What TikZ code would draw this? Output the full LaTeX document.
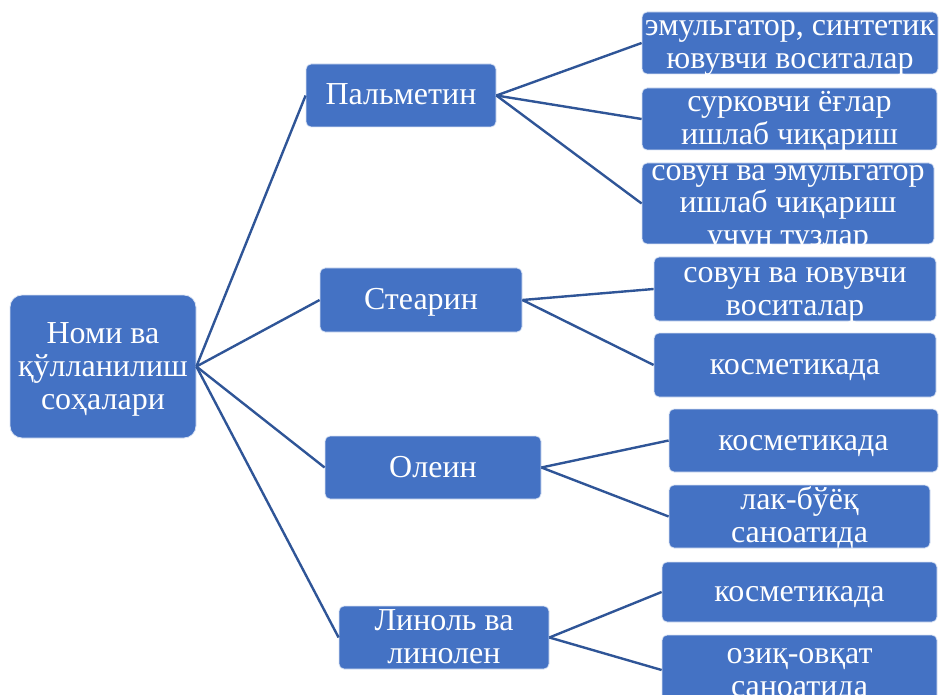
\documentclass[tikz,border=0pt]{standalone}
\usepackage{fontspec}
\setmainfont{Liberation Serif}
\definecolor{boxblue}{HTML}{4472C4}
\definecolor{linkblue}{HTML}{2F5597}
\newcommand\ms{\rule[-7pt]{0pt}{33pt}}
\begin{document}
\begin{tikzpicture}[x=1pt,y=-1pt,
  box/.style={fill=boxblue, draw=white!80!boxblue, line width=0.8pt, rounded corners=5pt, inner sep=0pt},
  txt/.style={inner sep=0pt, text=white, align=center, font=\fontsize{32}{33}\selectfont},
  link/.style={draw=linkblue, line width=2.4pt}]
\useasboundingbox (0,0) rectangle (940,695);
\clip (0,0) rectangle (940,695);
% boxes
\node[box, rounded corners=12pt, minimum width=186pt, minimum height=143pt] (root) at (103,366.5) {};
\node[box, minimum width=190pt, minimum height=63pt] (palm) at (401,95.5) {};
\node[box, minimum width=202pt, minimum height=64pt] (stear) at (421,300) {};
\node[box, minimum width=216pt, minimum height=63pt] (olein) at (433,467.5) {};
\node[box, minimum width=210pt, minimum height=63pt] (lin) at (444,637.5) {};
\node[box, minimum width=296pt, minimum height=62pt] (c1) at (790,43) {};
\node[box, minimum width=295pt, minimum height=62pt] (c2) at (789.5,119) {};
\node[box, minimum width=292pt, minimum height=81pt] (c3) at (788,203.5) {};
\node[box, minimum width=282pt, minimum height=64pt] (s1) at (795,289) {};
\node[box, minimum width=282pt, minimum height=64pt] (s2) at (795,365) {};
\node[box, minimum width=269pt, minimum height=63pt] (o1) at (803.5,440.5) {};
\node[box, minimum width=261pt, minimum height=63pt] (o2) at (799.5,516.5) {};
\node[box, minimum width=275pt, minimum height=60pt] (l1) at (799.5,592) {};
\node[box, minimum width=275pt, minimum height=70pt] (l2) at (799.5,670) {};
% texts
\node[txt] (roott) at (root.center) {\ms Номи ва\\\ms қўлланилиш\\\ms соҳалари};
\node[txt] (palmt) at (palm.center) {\ms Пальметин};
\node[txt] (steart) at (stear.center) {\ms Стеарин};
\node[txt] (oleint) at (olein.center) {\ms Олеин};
\node[txt] (lint) at (lin.center) {\ms Линоль ва\\\ms линолен};
\node[txt] (c1t) at (c1.center) {\ms эмульгатор, синтетик\\\ms ювувчи воситалар};
\node[txt] (c2t) at (c2.center) {\ms сурковчи ёғлар\\\ms ишлаб чиқариш};
\node[txt] (c3t) at (c3.center) {\ms совун ва эмульгатор\\\ms ишлаб чиқариш\\\ms учун тузлар};
\node[txt] (s1t) at (s1.center) {\ms совун ва ювувчи\\\ms воситалар};
\node[txt] (s2t) at (s2.center) {\ms косметикада};
\node[txt] (o1t) at (o1.center) {\ms косметикада};
\node[txt] (o2t) at (o2.center) {\ms лак-бўёқ\\\ms саноатида};
\node[txt] (l1t) at (l1.center) {\ms косметикада};
\node[txt] (l2t) at (l2.center) {\ms озиқ-овқат\\\ms саноатида};
% connectors
\draw[link] (root.east) -- (palm.west);
\draw[link] (root.east) -- (stear.west);
\draw[link] (root.east) -- (olein.west);
\draw[link] (root.east) -- (lin.west);
\draw[link] (palm.east) -- (c1.west);
\draw[link] (palm.east) -- (c2.west);
\draw[link] (palm.east) -- (c3.west);
\draw[link] (stear.east) -- (s1.west);
\draw[link] (stear.east) -- (s2.west);
\draw[link] (olein.east) -- (o1.west);
\draw[link] (olein.east) -- (o2.west);
\draw[link] (lin.east) -- (l1.west);
\draw[link] (lin.east) -- (l2.west);
\end{tikzpicture}
\end{document}
